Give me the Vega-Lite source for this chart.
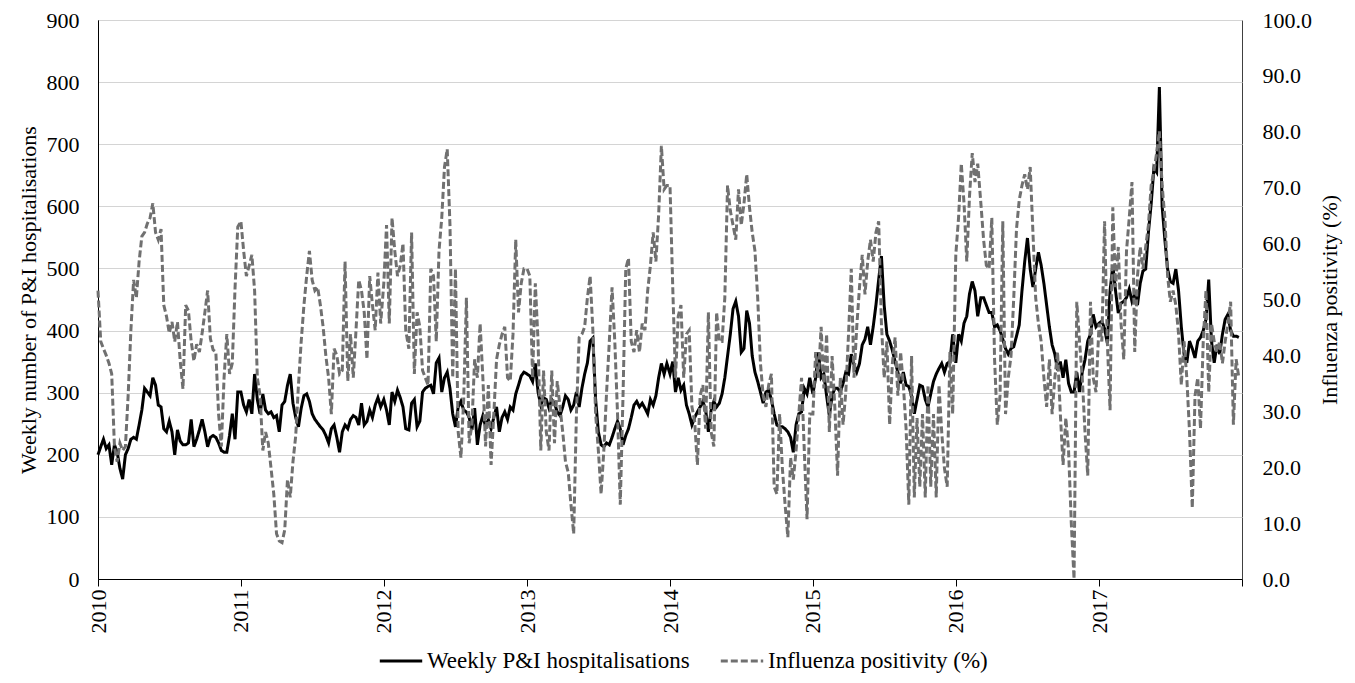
{
"$schema":"https://vega.github.io/schema/vega-lite/v6.json",
"width":1144,"height":559,
"autosize":{"type":"none"},
"padding":{"left":98,"top":20,"right":113,"bottom":104},
"config":{"view":{"stroke":"#404040","strokeWidth":1},
"axis":{"labelFontSize":22,"titleFontSize":22,"titleFontWeight":"normal","labelColor":"#000","titleColor":"#000","domainColor":"#000","tickColor":"#000"},
"legend":{"orient":"none","legendX":280,"legendY":618,"direction":"horizontal","symbolType":"stroke","symbolSize":1800,"symbolStrokeWidth":3,"labelFont":"Liberation Serif","labelFontSize":23,"labelColor":"#000","labelLimit":600,"columnPadding":24,"labelOffset":3,"padding":0}},
"datasets":{"pts":[
{"d":"2010-01-01","h":200,"f":51.6},{"d":"2010-01-08","h":213,"f":42.5},{"d":"2010-01-15","h":225,"f":41.2},{"d":"2010-01-22","h":210,"f":40},{"d":"2010-01-29","h":216,"f":38.6},{"d":"2010-02-05","h":184,"f":36.7},{"d":"2010-02-12","h":216,"f":23.7},{"d":"2010-02-19","h":204,"f":21},{"d":"2010-02-26","h":178,"f":24.3},{"d":"2010-03-05","h":161,"f":23},{"d":"2010-03-12","h":200,"f":23.7},{"d":"2010-03-19","h":210,"f":32.8},{"d":"2010-03-26","h":225,"f":44.5},{"d":"2010-04-02","h":228,"f":53.5},{"d":"2010-04-09","h":225,"f":50.3},{"d":"2010-04-16","h":248,"f":56.8},{"d":"2010-04-23","h":272,"f":61.3},{"d":"2010-04-30","h":307,"f":62},{"d":"2010-05-07","h":301,"f":63.6},{"d":"2010-05-14","h":295,"f":64.6},{"d":"2010-05-21","h":324,"f":67.2},{"d":"2010-05-28","h":312,"f":62},{"d":"2010-06-04","h":280,"f":60.7},{"d":"2010-06-11","h":277,"f":62.6},{"d":"2010-06-18","h":242,"f":49},{"d":"2010-06-25","h":237,"f":47},{"d":"2010-07-02","h":254,"f":44},{"d":"2010-07-09","h":237,"f":46},{"d":"2010-07-16","h":200,"f":42.5},{"d":"2010-07-23","h":240,"f":46},{"d":"2010-07-30","h":222,"f":39},{"d":"2010-08-06","h":216,"f":34},{"d":"2010-08-13","h":216,"f":49},{"d":"2010-08-20","h":219,"f":48},{"d":"2010-08-27","h":257,"f":42.5},{"d":"2010-09-03","h":213,"f":39},{"d":"2010-09-10","h":225,"f":42},{"d":"2010-09-17","h":240,"f":40.6},{"d":"2010-09-24","h":257,"f":44},{"d":"2010-10-01","h":237,"f":47.7},{"d":"2010-10-08","h":213,"f":51.6},{"d":"2010-10-15","h":228,"f":43},{"d":"2010-10-22","h":231,"f":41},{"d":"2010-10-29","h":228,"f":40.6},{"d":"2010-11-05","h":219,"f":29.5},{"d":"2010-11-12","h":207,"f":23.7},{"d":"2010-11-19","h":204,"f":36},{"d":"2010-11-26","h":204,"f":43.8},{"d":"2010-12-03","h":231,"f":36.7},{"d":"2010-12-10","h":266,"f":38.6},{"d":"2010-12-17","h":225,"f":52},{"d":"2010-12-24","h":301,"f":63},
{"d":"2011-01-01","h":301,"f":64},{"d":"2011-01-08","h":280,"f":58.7},{"d":"2011-01-15","h":269,"f":54.2},{"d":"2011-01-22","h":289,"f":56},{"d":"2011-01-29","h":266,"f":58},{"d":"2011-02-05","h":330,"f":51.6},{"d":"2011-02-12","h":289,"f":36},{"d":"2011-02-19","h":266,"f":32.8},{"d":"2011-02-26","h":298,"f":23},{"d":"2011-03-05","h":272,"f":26.3},{"d":"2011-03-12","h":266,"f":24.3},{"d":"2011-03-19","h":269,"f":19.8},{"d":"2011-03-26","h":260,"f":15.2},{"d":"2011-04-02","h":263,"f":8.1},{"d":"2011-04-09","h":237,"f":6.8},{"d":"2011-04-16","h":280,"f":6.5},{"d":"2011-04-23","h":286,"f":8.8},{"d":"2011-04-30","h":312,"f":17.8},{"d":"2011-05-07","h":330,"f":14.6},{"d":"2011-05-14","h":283,"f":21},{"d":"2011-05-21","h":260,"f":25.6},{"d":"2011-05-28","h":245,"f":34.7},{"d":"2011-06-04","h":275,"f":42.5},{"d":"2011-06-11","h":295,"f":49},{"d":"2011-06-18","h":298,"f":54.2},{"d":"2011-06-25","h":286,"f":58.7},{"d":"2011-07-02","h":266,"f":53.5},{"d":"2011-07-09","h":257,"f":51.6},{"d":"2011-07-16","h":251,"f":52.2},{"d":"2011-07-23","h":245,"f":49},{"d":"2011-07-30","h":240,"f":45.1},{"d":"2011-08-06","h":231,"f":39.9},{"d":"2011-08-13","h":219,"f":36},{"d":"2011-08-20","h":242,"f":29.5},{"d":"2011-08-27","h":248,"f":41.2},{"d":"2011-09-03","h":228,"f":40},{"d":"2011-09-10","h":204,"f":36.7},{"d":"2011-09-17","h":237,"f":37.3},{"d":"2011-09-24","h":248,"f":56.8},{"d":"2011-10-01","h":242,"f":35.4},{"d":"2011-10-08","h":257,"f":43.8},{"d":"2011-10-15","h":263,"f":36},{"d":"2011-10-22","h":260,"f":44.5},{"d":"2011-10-29","h":248,"f":53.5},{"d":"2011-11-05","h":283,"f":51.6},{"d":"2011-11-12","h":248,"f":47.7},{"d":"2011-11-19","h":254,"f":39.3},{"d":"2011-11-26","h":272,"f":54.2},{"d":"2011-12-03","h":260,"f":49},{"d":"2011-12-10","h":280,"f":44.5},{"d":"2011-12-17","h":292,"f":54.8},{"d":"2011-12-24","h":277,"f":45.7},
{"d":"2012-01-01","h":289,"f":52.9},{"d":"2012-01-08","h":272,"f":63.3},{"d":"2012-01-15","h":248,"f":45.7},{"d":"2012-01-22","h":301,"f":64.6},{"d":"2012-01-29","h":286,"f":58.7},{"d":"2012-02-05","h":304,"f":54.2},{"d":"2012-02-12","h":292,"f":56.1},{"d":"2012-02-19","h":277,"f":60},{"d":"2012-02-26","h":242,"f":44.5},{"d":"2012-03-05","h":240,"f":41.2},{"d":"2012-03-12","h":283,"f":62},{"d":"2012-03-19","h":289,"f":36.7},{"d":"2012-03-26","h":245,"f":47.7},{"d":"2012-04-02","h":254,"f":45.1},{"d":"2012-04-09","h":301,"f":37.3},{"d":"2012-04-16","h":307,"f":36},{"d":"2012-04-23","h":310,"f":34.7},{"d":"2012-04-30","h":312,"f":55.5},{"d":"2012-05-07","h":298,"f":54.2},{"d":"2012-05-14","h":348,"f":42.5},{"d":"2012-05-21","h":356,"f":58.7},{"d":"2012-05-28","h":301,"f":64.6},{"d":"2012-06-04","h":324,"f":73.7},{"d":"2012-06-11","h":333,"f":76.9},{"d":"2012-06-18","h":307,"f":63.3},{"d":"2012-06-25","h":266,"f":36},{"d":"2012-07-02","h":245,"f":55.5},{"d":"2012-07-09","h":277,"f":26.3},{"d":"2012-07-16","h":286,"f":21.7},{"d":"2012-07-23","h":272,"f":32.1},{"d":"2012-07-30","h":269,"f":50.3},{"d":"2012-08-06","h":260,"f":24.3},{"d":"2012-08-13","h":240,"f":27.6},{"d":"2012-08-20","h":275,"f":39.3},{"d":"2012-08-27","h":216,"f":36},{"d":"2012-09-03","h":248,"f":45.7},{"d":"2012-09-10","h":263,"f":36},{"d":"2012-09-17","h":245,"f":23.7},{"d":"2012-09-24","h":257,"f":34.7},{"d":"2012-10-01","h":242,"f":20.4},{"d":"2012-10-08","h":260,"f":29.5},{"d":"2012-10-15","h":277,"f":39.3},{"d":"2012-10-22","h":237,"f":41.9},{"d":"2012-10-29","h":260,"f":43.8},{"d":"2012-11-05","h":269,"f":45.1},{"d":"2012-11-12","h":257,"f":36},{"d":"2012-11-19","h":277,"f":35.4},{"d":"2012-11-26","h":272,"f":43.8},{"d":"2012-12-03","h":298,"f":60.7},{"d":"2012-12-10","h":312,"f":47.7},{"d":"2012-12-17","h":327,"f":52.9},{"d":"2012-12-24","h":333,"f":55.5},
{"d":"2013-01-01","h":330,"f":55.5},{"d":"2013-01-08","h":327,"f":54.2},{"d":"2013-01-15","h":318,"f":36},{"d":"2013-01-22","h":347,"f":52.9},{"d":"2013-01-29","h":301,"f":42.5},{"d":"2013-02-05","h":280,"f":23},{"d":"2013-02-12","h":292,"f":37.3},{"d":"2013-02-19","h":289,"f":26.3},{"d":"2013-02-26","h":275,"f":23},{"d":"2013-03-05","h":289,"f":37.3},{"d":"2013-03-12","h":283,"f":24.3},{"d":"2013-03-19","h":269,"f":35.4},{"d":"2013-03-26","h":263,"f":30.8},{"d":"2013-04-02","h":277,"f":26.3},{"d":"2013-04-09","h":295,"f":21},{"d":"2013-04-16","h":289,"f":19.1},{"d":"2013-04-23","h":272,"f":13.3},{"d":"2013-04-30","h":280,"f":8.1},{"d":"2013-05-07","h":301,"f":29.5},{"d":"2013-05-14","h":277,"f":43.2},{"d":"2013-05-21","h":307,"f":43.8},{"d":"2013-05-28","h":330,"f":45.1},{"d":"2013-06-04","h":348,"f":50.3},{"d":"2013-06-11","h":383,"f":54.2},{"d":"2013-06-18","h":388,"f":44.5},{"d":"2013-06-25","h":289,"f":29.5},{"d":"2013-07-02","h":237,"f":23},{"d":"2013-07-09","h":216,"f":15.2},{"d":"2013-07-16","h":213,"f":23},{"d":"2013-07-23","h":219,"f":33.4},{"d":"2013-07-30","h":216,"f":42.5},{"d":"2013-08-06","h":228,"f":52.2},{"d":"2013-08-13","h":242,"f":42.5},{"d":"2013-08-20","h":254,"f":29.5},{"d":"2013-08-27","h":242,"f":13.3},{"d":"2013-09-03","h":216,"f":32.8},{"d":"2013-09-10","h":231,"f":55.5},{"d":"2013-09-17","h":242,"f":57.4},{"d":"2013-09-24","h":260,"f":42.5},{"d":"2013-10-01","h":280,"f":40.6},{"d":"2013-10-08","h":286,"f":44.5},{"d":"2013-10-15","h":277,"f":40.6},{"d":"2013-10-22","h":283,"f":45.7},{"d":"2013-10-29","h":275,"f":44.5},{"d":"2013-11-05","h":266,"f":51.6},{"d":"2013-11-12","h":289,"f":56.1},{"d":"2013-11-19","h":280,"f":62},{"d":"2013-11-26","h":295,"f":56.8},{"d":"2013-12-03","h":324,"f":65.2},{"d":"2013-12-10","h":347,"f":77.5},{"d":"2013-12-17","h":330,"f":69.7},{"d":"2013-12-24","h":347,"f":70.4},
{"d":"2014-01-01","h":330,"f":70.4},{"d":"2014-01-08","h":350,"f":52.2},{"d":"2014-01-15","h":301,"f":36},{"d":"2014-01-22","h":324,"f":47},{"d":"2014-01-29","h":304,"f":49},{"d":"2014-02-05","h":312,"f":36},{"d":"2014-02-12","h":280,"f":43.8},{"d":"2014-02-19","h":266,"f":44.5},{"d":"2014-02-26","h":248,"f":30.8},{"d":"2014-03-05","h":260,"f":28.2},{"d":"2014-03-12","h":269,"f":20.4},{"d":"2014-03-19","h":277,"f":32.8},{"d":"2014-03-26","h":286,"f":34.7},{"d":"2014-04-02","h":272,"f":26.9},{"d":"2014-04-09","h":237,"f":47.7},{"d":"2014-04-16","h":272,"f":26.3},{"d":"2014-04-23","h":286,"f":23.7},{"d":"2014-04-30","h":277,"f":47.7},{"d":"2014-05-07","h":283,"f":42.5},{"d":"2014-05-14","h":298,"f":42.5},{"d":"2014-05-21","h":324,"f":50.3},{"d":"2014-05-28","h":359,"f":70.4},{"d":"2014-06-04","h":394,"f":65.9},{"d":"2014-06-11","h":435,"f":63.3},{"d":"2014-06-18","h":447,"f":60.7},{"d":"2014-06-25","h":423,"f":69.7},{"d":"2014-07-02","h":365,"f":63.3},{"d":"2014-07-09","h":371,"f":67.2},{"d":"2014-07-16","h":432,"f":72.4},{"d":"2014-07-23","h":412,"f":66.5},{"d":"2014-07-30","h":359,"f":62},{"d":"2014-08-06","h":333,"f":58.7},{"d":"2014-08-13","h":318,"f":50.3},{"d":"2014-08-20","h":301,"f":38.6},{"d":"2014-08-27","h":283,"f":32.8},{"d":"2014-09-03","h":301,"f":30.8},{"d":"2014-09-10","h":304,"f":34.7},{"d":"2014-09-17","h":289,"f":36.7},{"d":"2014-09-24","h":266,"f":16.5},{"d":"2014-10-01","h":248,"f":15.2},{"d":"2014-10-08","h":245,"f":29.5},{"d":"2014-10-15","h":245,"f":19.8},{"d":"2014-10-22","h":242,"f":13.3},{"d":"2014-10-29","h":237,"f":7.5},{"d":"2014-11-05","h":228,"f":21.7},{"d":"2014-11-12","h":204,"f":17.8},{"d":"2014-11-19","h":248,"f":23},{"d":"2014-11-26","h":266,"f":29.5},{"d":"2014-12-03","h":269,"f":36},{"d":"2014-12-10","h":307,"f":23},{"d":"2014-12-17","h":298,"f":10.7},{"d":"2014-12-24","h":324,"f":29.5},
{"d":"2015-01-01","h":298,"f":29.5},{"d":"2015-01-08","h":324,"f":40.6},{"d":"2015-01-15","h":365,"f":36},{"d":"2015-01-22","h":324,"f":45.1},{"d":"2015-01-29","h":330,"f":34.1},{"d":"2015-02-05","h":295,"f":43.8},{"d":"2015-02-12","h":263,"f":26.3},{"d":"2015-02-19","h":295,"f":39.9},{"d":"2015-02-26","h":307,"f":30.8},{"d":"2015-03-05","h":307,"f":18.5},{"d":"2015-03-12","h":301,"f":36},{"d":"2015-03-19","h":315,"f":27.6},{"d":"2015-03-26","h":333,"f":33.4},{"d":"2015-04-02","h":330,"f":43.8},{"d":"2015-04-09","h":362,"f":55.5},{"d":"2015-04-16","h":345,"f":36},{"d":"2015-04-23","h":333,"f":45.1},{"d":"2015-04-30","h":347,"f":52.2},{"d":"2015-05-07","h":377,"f":58},{"d":"2015-05-14","h":386,"f":50.9},{"d":"2015-05-21","h":406,"f":56.8},{"d":"2015-05-28","h":377,"f":60.7},{"d":"2015-06-04","h":406,"f":56.8},{"d":"2015-06-11","h":441,"f":62},{"d":"2015-06-18","h":482,"f":64},{"d":"2015-06-25","h":520,"f":45.7},{"d":"2015-07-02","h":441,"f":36},{"d":"2015-07-09","h":394,"f":42.5},{"d":"2015-07-16","h":383,"f":27.6},{"d":"2015-07-23","h":368,"f":38.6},{"d":"2015-07-30","h":350,"f":43.2},{"d":"2015-08-06","h":333,"f":32.8},{"d":"2015-08-13","h":315,"f":40.6},{"d":"2015-08-20","h":333,"f":34.7},{"d":"2015-08-27","h":312,"f":26.9},{"d":"2015-09-03","h":310,"f":13.3},{"d":"2015-09-10","h":295,"f":39.9},{"d":"2015-09-17","h":266,"f":14.6},{"d":"2015-09-24","h":289,"f":28.8},{"d":"2015-10-01","h":312,"f":16.5},{"d":"2015-10-08","h":310,"f":29.5},{"d":"2015-10-15","h":289,"f":14.6},{"d":"2015-10-22","h":277,"f":34.7},{"d":"2015-10-29","h":298,"f":16.5},{"d":"2015-11-05","h":318,"f":29.5},{"d":"2015-11-12","h":330,"f":14.6},{"d":"2015-11-19","h":339,"f":34.7},{"d":"2015-11-26","h":347,"f":26.3},{"d":"2015-12-03","h":333,"f":19.8},{"d":"2015-12-10","h":347,"f":16.5},{"d":"2015-12-17","h":350,"f":40.6},{"d":"2015-12-24","h":394,"f":29.5},
{"d":"2016-01-01","h":348,"f":58},{"d":"2016-01-08","h":394,"f":64.6},{"d":"2016-01-15","h":383,"f":74.3},{"d":"2016-01-22","h":412,"f":67.2},{"d":"2016-01-29","h":423,"f":56.8},{"d":"2016-02-05","h":459,"f":68.5},{"d":"2016-02-12","h":479,"f":76.2},{"d":"2016-02-19","h":464,"f":71},{"d":"2016-02-26","h":423,"f":74.3},{"d":"2016-03-05","h":453,"f":67.2},{"d":"2016-03-12","h":453,"f":60.7},{"d":"2016-03-19","h":441,"f":56.1},{"d":"2016-03-26","h":429,"f":55.5},{"d":"2016-04-02","h":429,"f":64.6},{"d":"2016-04-09","h":406,"f":39.3},{"d":"2016-04-16","h":409,"f":27.6},{"d":"2016-04-23","h":400,"f":32.8},{"d":"2016-04-30","h":386,"f":64},{"d":"2016-05-07","h":371,"f":29.5},{"d":"2016-05-14","h":362,"f":36},{"d":"2016-05-21","h":371,"f":39.9},{"d":"2016-05-28","h":374,"f":50.3},{"d":"2016-06-04","h":391,"f":62.6},{"d":"2016-06-11","h":409,"f":67.8},{"d":"2016-06-18","h":464,"f":70.4},{"d":"2016-06-25","h":511,"f":72.4},{"d":"2016-07-02","h":549,"f":69.7},{"d":"2016-07-09","h":499,"f":73.7},{"d":"2016-07-16","h":470,"f":62},{"d":"2016-07-23","h":499,"f":50.3},{"d":"2016-07-30","h":526,"f":45.7},{"d":"2016-08-06","h":505,"f":42.5},{"d":"2016-08-13","h":476,"f":36},{"d":"2016-08-20","h":441,"f":30.8},{"d":"2016-08-27","h":406,"f":39.3},{"d":"2016-09-03","h":377,"f":29.5},{"d":"2016-09-10","h":362,"f":36},{"d":"2016-09-17","h":336,"f":40.6},{"d":"2016-09-24","h":350,"f":29.5},{"d":"2016-10-01","h":324,"f":20.4},{"d":"2016-10-08","h":353,"f":28.8},{"d":"2016-10-15","h":315,"f":23},{"d":"2016-10-22","h":301,"f":10},{"d":"2016-10-29","h":301,"f":0},{"d":"2016-11-05","h":333,"f":49.6},{"d":"2016-11-12","h":301,"f":42.5},{"d":"2016-11-19","h":333,"f":36},{"d":"2016-11-26","h":353,"f":26.3},{"d":"2016-12-03","h":383,"f":18.5},{"d":"2016-12-10","h":394,"f":49.6},{"d":"2016-12-17","h":426,"f":36},{"d":"2016-12-24","h":406,"f":33.4},
{"d":"2017-01-01","h":412,"f":45.7},{"d":"2017-01-08","h":415,"f":42.5},{"d":"2017-01-15","h":403,"f":64},{"d":"2017-01-22","h":380,"f":42.5},{"d":"2017-01-29","h":464,"f":30.2},{"d":"2017-02-05","h":505,"f":66.5},{"d":"2017-02-12","h":464,"f":52.2},{"d":"2017-02-19","h":428,"f":59.4},{"d":"2017-02-26","h":444,"f":45.7},{"d":"2017-03-05","h":447,"f":39.3},{"d":"2017-03-12","h":453,"f":58.7},{"d":"2017-03-19","h":467,"f":64.6},{"d":"2017-03-26","h":447,"f":71},{"d":"2017-04-02","h":459,"f":40.6},{"d":"2017-04-09","h":441,"f":54.2},{"d":"2017-04-16","h":476,"f":59.4},{"d":"2017-04-23","h":496,"f":55.5},{"d":"2017-04-30","h":499,"f":59.4},{"d":"2017-05-07","h":558,"f":63.3},{"d":"2017-05-14","h":604,"f":70.4},{"d":"2017-05-21","h":662,"f":73},{"d":"2017-05-28","h":655,"f":76.2},{"d":"2017-06-04","h":792,"f":80.1},{"d":"2017-06-11","h":600,"f":70.4},{"d":"2017-06-18","h":546,"f":64.6},{"d":"2017-06-25","h":499,"f":54.2},{"d":"2017-07-02","h":479,"f":49.6},{"d":"2017-07-09","h":476,"f":51.6},{"d":"2017-07-16","h":499,"f":49},{"d":"2017-07-23","h":464,"f":43.8},{"d":"2017-07-30","h":406,"f":34.7},{"d":"2017-08-06","h":362,"f":42.5},{"d":"2017-08-13","h":348,"f":36},{"d":"2017-08-20","h":383,"f":26.3},{"d":"2017-08-27","h":371,"f":12.7},{"d":"2017-09-03","h":356,"f":32.8},{"d":"2017-09-10","h":383,"f":36},{"d":"2017-09-17","h":389,"f":26.9},{"d":"2017-09-24","h":400,"f":42.5},{"d":"2017-10-01","h":418,"f":51.6},{"d":"2017-10-08","h":482,"f":33.4},{"d":"2017-10-15","h":383,"f":45.7},{"d":"2017-10-22","h":348,"f":42.5},{"d":"2017-10-29","h":377,"f":40.6},{"d":"2017-11-05","h":362,"f":42.5},{"d":"2017-11-12","h":394,"f":38.6},{"d":"2017-11-19","h":418,"f":42.5},{"d":"2017-11-26","h":426,"f":45.7},{"d":"2017-12-03","h":400,"f":49.6},{"d":"2017-12-10","h":391,"f":27.6},{"d":"2017-12-17","h":391,"f":39.3},{"d":"2017-12-24","h":389,"f":36}
]},
"data":{"name":"pts"},
"encoding":{"x":{"field":"d","type":"temporal","title":null,
"scale":{"type":"utc","domain":[{"year":2010,"month":1,"date":1,"utc":true},{"year":2018,"month":1,"date":1,"utc":true}]},
"axis":{"values":[{"year":2010,"month":1,"date":1,"utc":true},{"year":2011,"month":1,"date":1,"utc":true},{"year":2012,"month":1,"date":1,"utc":true},{"year":2013,"month":1,"date":1,"utc":true},{"year":2014,"month":1,"date":1,"utc":true},{"year":2015,"month":1,"date":1,"utc":true},{"year":2016,"month":1,"date":1,"utc":true},{"year":2017,"month":1,"date":1,"utc":true},{"year":2018,"month":1,"date":1,"utc":true}],
"labelExpr":"utcyear(datum.value) >= 2018 ? '' : utcFormat(datum.value, '%Y')","labelFont":"Liberation Serif","labelFontSize":22,"labelAngle":270,"labelAlign":"right","labelBaseline":"middle","labelPadding":3,"tickSize":7,"grid":false,"labelOverlap":false,"labelFlush":false}}},
"layer":[
{"mark":{"type":"line","strokeWidth":3,"interpolate":"linear"},
"encoding":{"y":{"field":"h","type":"quantitative","scale":{"domain":[0,900],"nice":false},
"axis":{"title":"Weekly number of P&I hospitalisations","labelFont":"Liberation Serif","titleFont":"Liberation Serif","labelFontSize":22,"titleFontSize":22,"values":[0,100,200,300,400,500,600,700,800,900],"grid":true,"gridColor":"#d4d4d4","ticks":false,"labelPadding":19,"titlePadding":6}},
"color":{"datum":"Weekly P&I hospitalisations","type":"nominal","scale":{"domain":["Weekly P&I hospitalisations","Influenza positivity (%)"],"range":["#000000","#707070"]},"legend":{"title":null,"labelFont":"Liberation Serif"}},
"strokeDash":{"datum":"Weekly P&I hospitalisations","type":"nominal","scale":{"domain":["Weekly P&I hospitalisations","Influenza positivity (%)"],"range":[[1,0],[7,3]]},"legend":{"title":null,"labelFont":"Liberation Serif"}}}},
{"mark":{"type":"line","strokeWidth":3,"interpolate":"linear"},
"encoding":{"y":{"field":"f","type":"quantitative","scale":{"domain":[0,100],"nice":false},
"axis":{"orient":"right","title":"Influenza positivity (%)","labelFont":"Liberation Serif","titleFont":"Liberation Serif","labelFontSize":22,"titleFontSize":22,"values":[0,10,20,30,40,50,60,70,80,90,100],"format":".1f","grid":false,"ticks":false,"domain":false,"labelPadding":20,"titleAngle":270,"titleBaseline":"top","titlePadding":8}},
"color":{"datum":"Influenza positivity (%)","type":"nominal"},
"strokeDash":{"datum":"Influenza positivity (%)","type":"nominal"}}}
],
"resolve":{"scale":{"y":"independent"}}
}
